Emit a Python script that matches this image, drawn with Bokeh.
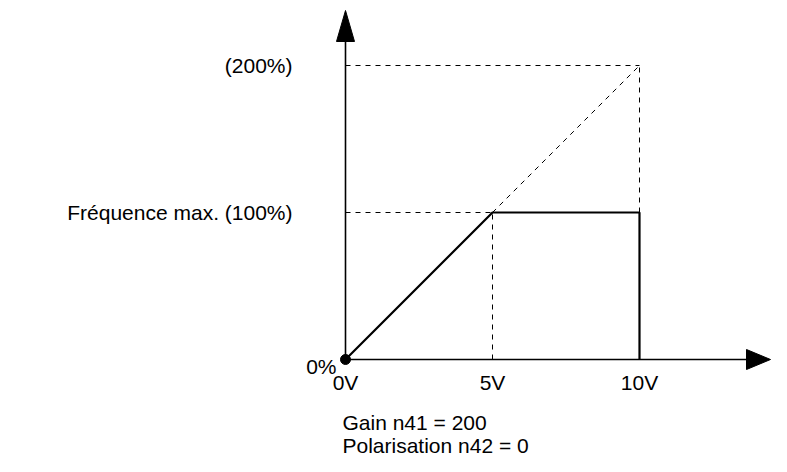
from bokeh.plotting import figure
from bokeh.embed import file_html
from bokeh.resources import INLINE
from bokeh.core.properties import value

# ---- data ----
volts = [0, 5, 10, 10]
freq_pct = [0, 100, 100, 0]
gain_x = [5, 10]
gain_y = [100, 200]
x_ticks = [0, 5, 10]
x_tick_labels = ["0V", "5V", "10V"]
y_ticks = [0, 100, 200]
y_tick_labels = ["0%", "Fréquence max. (100%)", "(200%)"]
notes = ["Gain n41 = 200", "Polarisation n42 = 0"]

# ---- layout constants ----
W, H = 771, 456
PXV = 29.4      # pixels per volt
PXP = 1.47      # pixels per percent
X0 = 345        # pixel column of 0 V inside figure
Y0 = 359        # pixel row of 0 % inside figure (from top)

x_start = -X0 / PXV
x_end = x_start + W / PXV
y_start = -(H - Y0) / PXP
y_end = y_start + H / PXP

def dx(px):
    return px / PXV

def dy(px):
    return px / PXP

FONT = value("Liberation Sans")
FS = "21px"

p = figure(width=W, height=H, x_range=(x_start, x_end), y_range=(y_start, y_end),
           output_backend="svg", toolbar_location=None, x_axis_type=None, y_axis_type=None,
           min_border=0, outline_line_color=None)
p.xgrid.visible = False
p.ygrid.visible = False

# axes
x_tip = x_end - dx(1)
y_tip = y_end - dy(10)
p.line([0, x_tip - dx(20)], [0, 0], line_color="black", line_width=1.6)
p.line([0, 0], [0, y_tip - dy(28)], line_color="black", line_width=1.6)
p.patch([x_tip, x_tip - dx(24), x_tip - dx(24)], [0, dy(10), -dy(10)], color="black")
p.patch([0, -dx(9), dx(9)], [y_tip, y_tip - dy(31), y_tip - dy(31)], color="black")

# dashed guides
ymax = max(gain_y)
xmax = max(volts)
p.line([0, gain_x[0]], [gain_y[0], gain_y[0]], line_color="black", line_width=1, line_dash="5 5")
p.line([gain_x[0], gain_x[0]], [0, gain_y[0]], line_color="black", line_width=1, line_dash="5 5")
p.line([0, xmax], [ymax, ymax], line_color="black", line_width=1, line_dash="5 5")
p.line([xmax, xmax], [gain_y[0], ymax], line_color="black", line_width=1, line_dash="5 5")
p.line(gain_x, gain_y, line_color="black", line_width=1, line_dash="5 5")

# main characteristic
p.line(volts, freq_pct, line_color="black", line_width=2.2)
p.scatter([0], [0], size=10, color="black")

# tick labels
p.text(x_ticks, [0] * len(x_ticks), text=x_tick_labels, text_align="center",
       text_baseline="top", y_offset=11, text_font=FONT, text_font_size=FS, text_color="black")
p.text([0] * 3, y_ticks, text=y_tick_labels, text_align="right",
       text_baseline="middle", x_offset=[-9, -53, -53], y_offset=[7, 0, 0],
       text_font=FONT, text_font_size=FS, text_color="black")

# notes
p.text([-dx(3)] * 2, [0, 0], text=notes, text_align="left", text_baseline="middle",
       y_offset=[63, 86], text_font=FONT, text_font_size=FS, text_color="black")

open("out.html", "w").write(file_html(p, INLINE))
